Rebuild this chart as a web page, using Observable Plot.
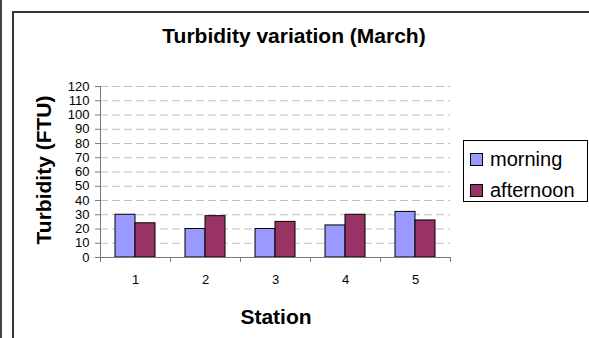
<!DOCTYPE html>
<html>
<head>
<meta charset="utf-8">
<script src="https://cdn.jsdelivr.net/npm/d3@7"></script>
<script src="https://cdn.jsdelivr.net/npm/@observablehq/plot@0.6"></script>
<style>
  html, body { margin: 0; padding: 0; background: #fff; }
  #wrap { position: relative; width: 589px; height: 338px; overflow: hidden; font-family: "Liberation Sans", Arial, sans-serif; }
  #outer { position: absolute; left: 0; top: 0; width: 0; height: 338px; border-left: 2px solid #444; }
  #frame { position: absolute; left: 12px; top: 11px; width: 700px; height: 400px; border-left: 2px solid #333; border-top: 2px solid #333; }
  #chart { position: absolute; left: 0; top: 0; }
  #chart svg text { font-size: 13px !important; font-family: "Liberation Sans", Arial, sans-serif !important; fill: #000; }
  .title { position: absolute; font-weight: bold; font-size: 21px; line-height: 21px; white-space: nowrap; color: #000; }
  #legend { position: absolute; left: 463px; top: 140px; width: 123px; height: 60px; border: 1px solid #000; background: #fff; }
  .item { position: absolute; left: 26px; font-size: 20px; line-height: 20px; white-space: nowrap; }
  .sw { position: absolute; left: 6px; width: 11px; height: 11px; border: 1px solid #000; }
</style>
</head>
<body>
<div id="wrap">
  <div id="outer"></div>
  <div id="frame"></div>
  <div id="chart"></div>
  <div class="title" id="t-main" style="left:294px; top:25px; transform:translateX(-50%);"></div>
  <div class="title" id="t-x" style="left:276px; top:306px; transform:translateX(-50%);"></div>
  <div class="title" id="t-y" style="left:43px; top:170px; transform:translate(-50%,-50%) rotate(-90deg);"></div>
  <div id="legend"></div>
</div>
<script>
const chartTitle = "Turbidity variation (March)";
const xTitle = "Station";
const yTitle = "Turbidity (FTU)";
const stations = [1, 2, 3, 4, 5];
const seriesNames = ["morning", "afternoon"];
const morning = [30, 20, 20, 22.5, 32];
const afternoon = [24, 29, 25, 30, 26];
const yTicks = [0, 10, 20, 30, 40, 50, 60, 70, 80, 90, 100, 110, 120];
const colors = ["#9999FF", "#993366"];

const barW = 20 / 70; // bar width in station units (style)
const rows = stations.flatMap((s, i) => [
  {station: s, series: seriesNames[0], value: morning[i]},
  {station: s, series: seriesNames[1], value: afternoon[i]}
]);
const xDomain = [stations[0] - 0.5, stations[stations.length - 1] + 0.5];
const boundaries = stations.map(s => s - 0.5).concat([xDomain[1]]);

const chart = Plot.plot({
  width: 589,
  height: 338,
  marginLeft: 100,
  marginRight: 139,
  marginTop: 86,
  marginBottom: 81,
  style: {fontFamily: "'Liberation Sans', Arial, sans-serif", fontSize: "13px", color: "#000", background: "transparent"},
  x: {type: "linear", domain: xDomain},
  y: {domain: [yTicks[0], yTicks[yTicks.length - 1]]},
  color: {domain: seriesNames, range: colors},
  marks: [
    Plot.gridY(yTicks.slice(1), {stroke: "#c0c0c0", strokeOpacity: 1, strokeDasharray: "8,4"}),
    Plot.rectY(rows, {
      x1: d => d.series === seriesNames[0] ? d.station - barW : d.station,
      x2: d => d.series === seriesNames[0] ? d.station : d.station + barW,
      y: "value",
      fill: "series",
      stroke: "#000",
      strokeWidth: 1
    }),
    Plot.ruleY([yTicks[0]], {stroke: "#777"}),
    Plot.ruleX([xDomain[0]], {stroke: "#777"}),
    Plot.axisY(yTicks, {tickSize: 5, tickPadding: 6, fontSize: 13, label: null, stroke: "#777"}),
    Plot.axisX(boundaries, {tickSize: 5, tickFormat: () => "", label: null, stroke: "#777"}),
    Plot.axisX(stations, {tickSize: 0, tickPadding: 17, fontSize: 13, label: null})
  ]
});
document.getElementById("chart").appendChild(chart);

document.getElementById("t-main").textContent = chartTitle;
document.getElementById("t-x").textContent = xTitle;
document.getElementById("t-y").textContent = yTitle;

const legend = document.getElementById("legend");
const rowTops = [8, 39];
seriesNames.forEach((name, i) => {
  const sw = document.createElement("div");
  sw.className = "sw";
  sw.style.top = (rowTops[i] + 4) + "px";
  sw.style.background = colors[i];
  legend.appendChild(sw);
  const t = document.createElement("div");
  t.className = "item";
  t.style.top = rowTops[i] + "px";
  t.textContent = name;
  legend.appendChild(t);
});
</script>
</body>
</html>
